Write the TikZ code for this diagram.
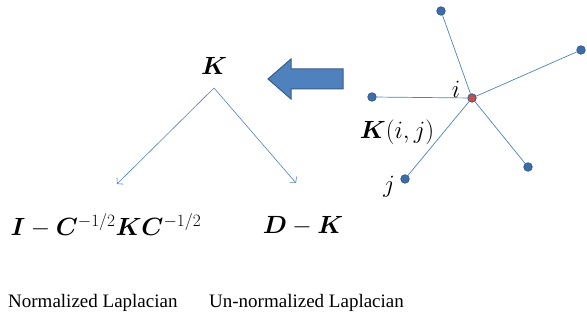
\documentclass[tikz,border=0pt]{standalone}
\usepackage{amsmath,amssymb,bm}
\usepackage{fontspec}
\setmainfont{Liberation Serif}
\usetikzlibrary{arrows.meta}
\definecolor{offblue}{HTML}{4F81BD}
\definecolor{offdark}{HTML}{385D8A}
\definecolor{dotblue}{HTML}{3C6DAB}
\definecolor{dotred}{HTML}{C0504D}
\begin{document}
\begin{tikzpicture}[x=1pt,y=-1pt,
  vtx/.style={circle,fill=dotblue,draw=offdark,line width=0.8pt,inner sep=0pt,minimum size=8.5pt},
  ctr/.style={circle,fill=dotred,draw=offdark,line width=0.8pt,inner sep=0pt,minimum size=8.5pt},
  edge/.style={draw=offblue,line width=0.7pt},
  conn/.style={draw=offblue,line width=0.6pt,-{Straight Barb[length=4pt,width=9pt]}},
  mathlbl/.style={inner sep=0pt,font=\fontsize{23}{27}\selectfont},
  txt/.style={inner sep=0pt,font=\fontsize{19}{22}\selectfont}]
\useasboundingbox (0,0) rectangle (587,320);
% graph
\node[ctr] (c) at (472,98) {};
\node[vtx] (n1) at (441,11) {};
\node[vtx] (n2) at (581,50) {};
\node[vtx] (n3) at (372,97) {};
\node[vtx] (n4) at (528,167) {};
\node[vtx] (n5) at (405,179) {};
\draw[edge] (c) -- (n1);
\draw[edge] (c) -- (n2);
\draw[edge] (c) -- (n3);
\draw[edge] (c) -- (n4);
\draw[edge] (c) -- (n5);
\node[mathlbl] (li) at (456,89) {$i$};
\node[mathlbl] (lk) at (397,132) {$\boldsymbol{K}(i,j)$};
\node[mathlbl] (lj) at (389,187) {$j$};
% block arrow
\draw[fill=offblue,draw=offdark,line width=1pt] (268,79) -- (291,59) -- (291,69) -- (343,69) -- (343,89) -- (291,89) -- (291,99) -- cycle;
% K tree
\node[mathlbl] (K) at (214,66) {$\boldsymbol{K}$};
\coordinate (top) at (214,88);
\node[mathlbl] (norm) at (106,226) {$\boldsymbol{I}-\boldsymbol{C}^{-1/2}\boldsymbol{K}\boldsymbol{C}^{-1/2}$};
\node[mathlbl] (unn) at (303,226) {$\boldsymbol{D}-\boldsymbol{K}$};
\coordinate (a1) at (117,184);
\coordinate (a2) at (296,183);
\draw[conn] (top) -- (a1);
\draw[conn] (top) -- (a2);
\node[txt,anchor=west] (t1) at (8,303) {Normalized Laplacian};
\node[txt,anchor=west] (t2) at (209,303) {Un-normalized Laplacian};
\end{tikzpicture}
\end{document}
